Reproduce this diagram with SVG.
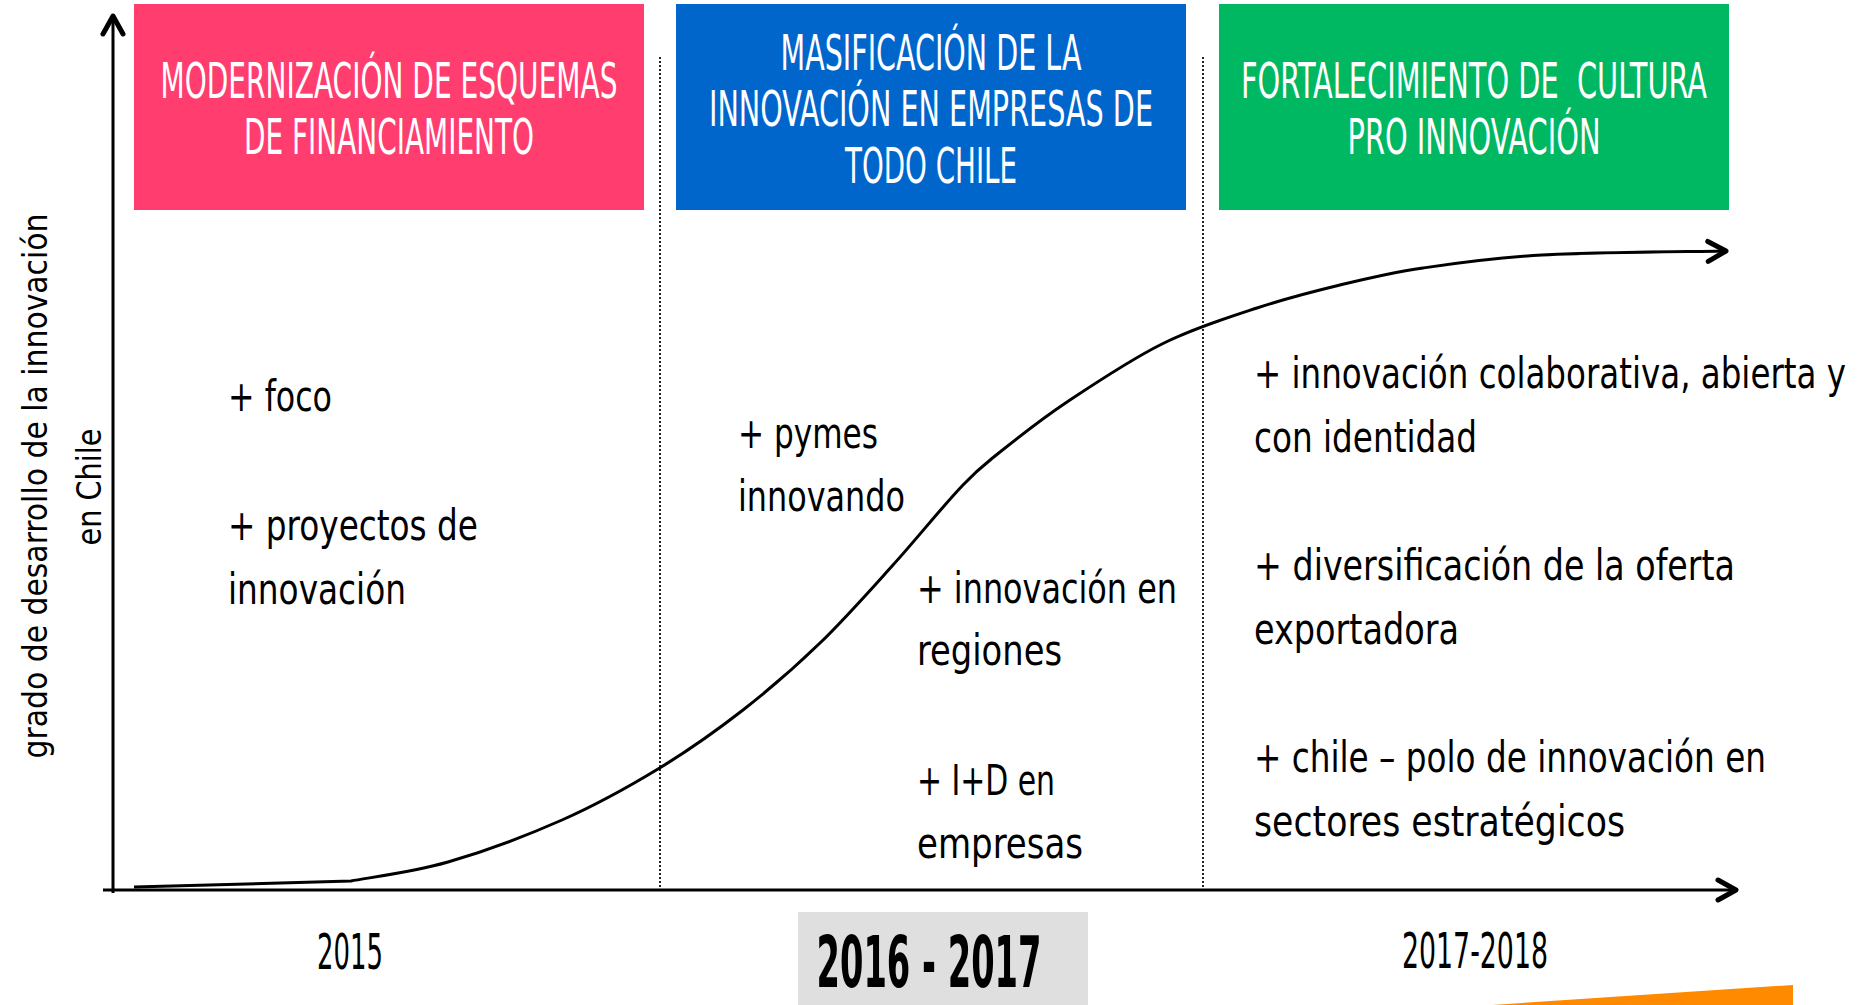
<svg xmlns="http://www.w3.org/2000/svg" width="1860" height="1005" viewBox="0 0 1860 1005">
<style>
.t{font-family:"DejaVu Sans Condensed","DejaVu Sans","Liberation Sans",sans-serif;}
.title{font-size:50px;fill:#ffffff;text-anchor:middle;}
.body{font-size:42px;fill:#000000;}
.year{font-size:50px;fill:#000000;text-anchor:middle;}
.ylab{font-size:33px;fill:#000000;text-anchor:middle;}
.axis{stroke:#000;stroke-width:3;fill:none;}
.dot{stroke:#222;stroke-width:2;stroke-dasharray:2 2;fill:none;}
</style>
<defs>
<marker id="chev" markerUnits="userSpaceOnUse" markerWidth="30" markerHeight="30" viewBox="-4 -4 30 30" refX="18" refY="10" orient="auto">
<path d="M0,0 L18,10 L0,20" fill="none" stroke="#000" stroke-width="5" stroke-linecap="round" stroke-linejoin="round"/>
</marker>
</defs>
<rect width="1860" height="1005" fill="#ffffff"/>

<g id="box-financiamiento">
<rect x="134" y="4" width="510" height="206" fill="#FF3D6E"/>
<text class="t title" x="389" y="98" textLength="457" lengthAdjust="spacingAndGlyphs">MODERNIZACIÓN DE ESQUEMAS</text>
<text class="t title" x="389" y="154" textLength="290" lengthAdjust="spacingAndGlyphs">DE FINANCIAMIENTO</text>
</g>
<g id="box-masificacion">
<rect x="676" y="4" width="510" height="206" fill="#0066CC"/>
<text class="t title" x="931" y="70" textLength="301" lengthAdjust="spacingAndGlyphs">MASIFICACIÓN DE LA</text>
<text class="t title" x="931" y="126" textLength="444" lengthAdjust="spacingAndGlyphs">INNOVACIÓN EN EMPRESAS DE</text>
<text class="t title" x="931" y="183" textLength="172" lengthAdjust="spacingAndGlyphs">TODO CHILE</text>
</g>
<g id="box-cultura">
<rect x="1219" y="4" width="510" height="206" fill="#00B862"/>
<text class="t title" x="1474" y="98" textLength="466" lengthAdjust="spacingAndGlyphs" xml:space="preserve">FORTALECIMIENTO DE  CULTURA</text>
<text class="t title" x="1474" y="154" textLength="253" lengthAdjust="spacingAndGlyphs">PRO INNOVACIÓN</text>
</g>

<g id="connectors">
<line class="dot" x1="660" y1="57" x2="660" y2="890"/>
<line class="dot" x1="1203" y1="57" x2="1203" y2="890"/>
<line class="axis" x1="113" y1="893" x2="113" y2="16" marker-end="url(#chev)"/>
<line class="axis" x1="103" y1="890" x2="1736" y2="890" marker-end="url(#chev)"/>
<path class="axis" d="M134,887 L351,881 C367.2,877.8 412.8,872.2 448,862 C483.2,851.8 527,835.5 562,820 C597,804.5 627.8,787.3 658,769 C688.2,750.7 716,731 743,710 C770,689 795,667.2 820,643 C845,618.8 869.2,591.3 893,565 C916.8,538.7 942,507 963,485 C979,468 984,465 1000,452 C1017.3,438.2 1040,420 1067,402 C1094,384 1130.3,359.7 1162,344 C1193.7,328.3 1227.3,317.8 1257,308 C1286.7,298.2 1312.3,291.7 1340,285 C1367.7,278.3 1389.3,273 1423,268 C1456.7,263 1491.5,257.8 1542,255 C1592.5,252.2 1695.3,251.7 1726,251" marker-end="url(#chev)"/>
</g>

<g id="ylabel">
<text class="t ylab" transform="translate(47,486) rotate(-90)" textLength="545" lengthAdjust="spacingAndGlyphs">grado de desarrollo de la innovación</text>
<text class="t ylab" transform="translate(101,487) rotate(-90)" textLength="117" lengthAdjust="spacingAndGlyphs">en Chile</text>
</g>

<g id="items-2015">
<text class="t body" x="228" y="411" textLength="104" lengthAdjust="spacingAndGlyphs">+ foco</text>
<text class="t body" x="228" y="540" textLength="250" lengthAdjust="spacingAndGlyphs">+ proyectos de</text>
<text class="t body" x="228" y="604" textLength="178" lengthAdjust="spacingAndGlyphs">innovación</text>
</g>
<g id="items-2016">
<text class="t body" x="738" y="448" textLength="140" lengthAdjust="spacingAndGlyphs">+ pymes</text>
<text class="t body" x="738" y="511" textLength="167" lengthAdjust="spacingAndGlyphs">innovando</text>
<text class="t body" x="917" y="603" textLength="260" lengthAdjust="spacingAndGlyphs">+ innovación en</text>
<text class="t body" x="917" y="665" textLength="145" lengthAdjust="spacingAndGlyphs">regiones</text>
<text class="t body" x="917" y="795" textLength="138" lengthAdjust="spacingAndGlyphs">+ I+D en</text>
<text class="t body" x="917" y="858" textLength="166" lengthAdjust="spacingAndGlyphs">empresas</text>
</g>
<g id="items-2017">
<text class="t body" x="1254" y="388" textLength="592" lengthAdjust="spacingAndGlyphs">+ innovación colaborativa, abierta y</text>
<text class="t body" x="1254" y="452" textLength="223" lengthAdjust="spacingAndGlyphs">con identidad</text>
<text class="t body" x="1254" y="580" textLength="481" lengthAdjust="spacingAndGlyphs">+ diversificación de la oferta</text>
<text class="t body" x="1254" y="644" textLength="205" lengthAdjust="spacingAndGlyphs">exportadora</text>
<text class="t body" x="1254" y="772" textLength="512" lengthAdjust="spacingAndGlyphs">+ chile – polo de innovación en</text>
<text class="t body" x="1254" y="836" textLength="371" lengthAdjust="spacingAndGlyphs">sectores estratégicos</text>
</g>

<g id="year-2015">
<text class="t year" x="350" y="969" textLength="66" lengthAdjust="spacingAndGlyphs">2015</text>
</g>
<g id="year-2016-2017">
<rect x="798" y="912" width="290" height="93" fill="#DFDFDF"/>
<text class="t" x="929" y="987" font-size="71" font-weight="bold" text-anchor="middle" fill="#000" textLength="225" lengthAdjust="spacingAndGlyphs">2016 - 2017</text>
</g>
<g id="year-2017-2018">
<text class="t year" x="1475" y="968" textLength="146" lengthAdjust="spacingAndGlyphs">2017-2018</text>
</g>
<polygon points="1492,1005 1793,985 1793,1005" fill="#FF8A00"/>
</svg>
